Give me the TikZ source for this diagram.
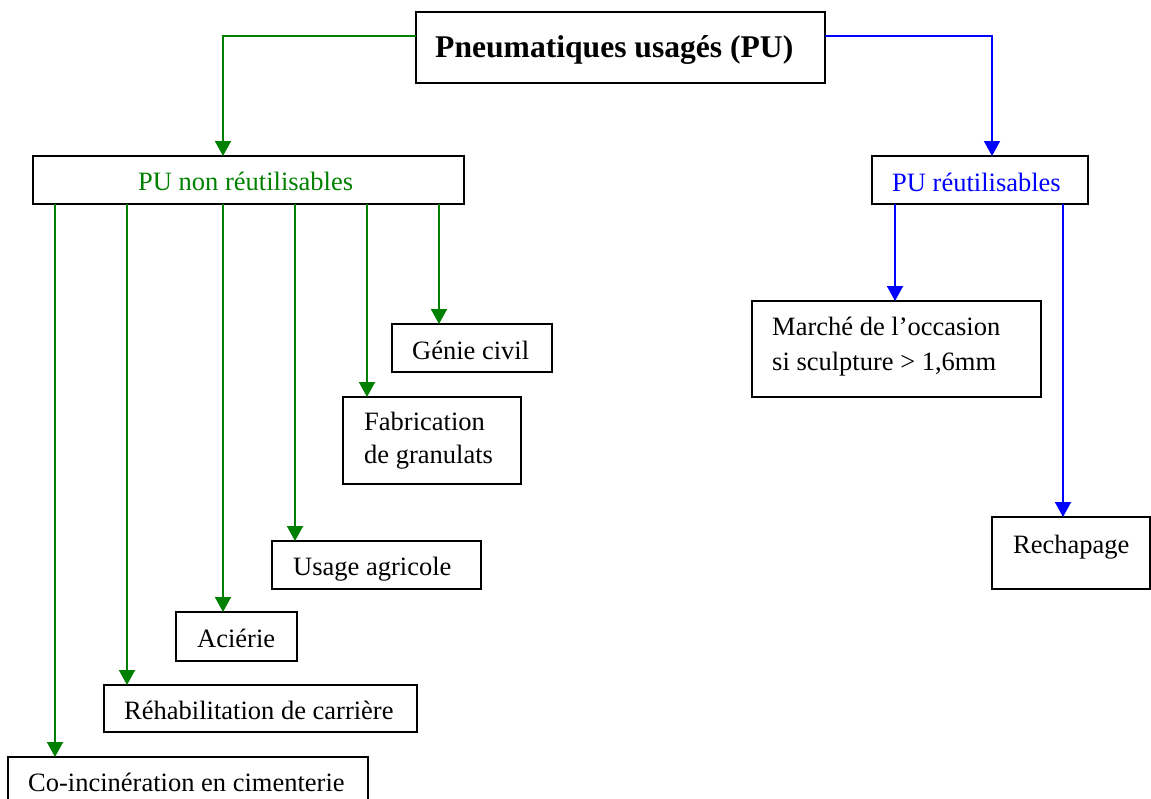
\documentclass[tikz,border=0pt]{standalone}
\usepackage{fontspec}
\setmainfont{Liberation Serif}
\usetikzlibrary{arrows.meta}
\definecolor{pgreen}{RGB}{0,128,0}
\definecolor{pblue}{RGB}{0,0,255}
\begin{document}
\begin{tikzpicture}[x=1pt,y=-1pt,
  box/.style={draw=black,line width=2pt,anchor=north west,inner sep=0pt,outer sep=0pt},
  lbl/.style={anchor=base west,inner sep=0pt,font=\fontsize{26.5}{33}\selectfont},
  garr/.style={draw=pgreen,line width=1.8pt,-{Triangle[width=16pt,length=15pt,fill=pgreen]}},
  barr/.style={draw=pblue,line width=1.8pt,-{Triangle[width=16pt,length=15pt,fill=pblue]}}]
\useasboundingbox (0,0) rectangle (1151,798);
% boxes
\node[box,minimum width=409pt,minimum height=71pt] (top) at (416,12) {};
\node[box,minimum width=431pt,minimum height=48pt] (nonr) at (33,156) {};
\node[box,minimum width=216pt,minimum height=48pt] (reu) at (872,156) {};
\node[box,minimum width=160pt,minimum height=48pt] (genie) at (392,324) {};
\node[box,minimum width=178pt,minimum height=87pt] (fab) at (343,397) {};
\node[box,minimum width=209pt,minimum height=48pt] (usage) at (272,541) {};
\node[box,minimum width=121pt,minimum height=49pt] (acier) at (176,612) {};
\node[box,minimum width=313pt,minimum height=47pt] (rehab) at (104,685) {};
\node[box,minimum width=360pt,minimum height=60pt] (cim) at (8,757) {};
\node[box,minimum width=289pt,minimum height=96pt] (marche) at (752,301) {};
\node[box,minimum width=158pt,minimum height=72pt] (rech) at (992,517) {};
% texts
\node[lbl,font=\fontsize{31.6}{38}\selectfont\bfseries] (ttop) at (435,57) {Pneumatiques usagés (PU)};
\node[lbl,text=pgreen] (tnonr) at (138,190) {PU non réutilisables};
\node[lbl,text=pblue] (treu) at (892,191) {PU réutilisables};
\node[lbl] (tgenie) at (412,359) {Génie civil};
\node[lbl] (tfab1) at (364,430) {Fabrication};
\node[lbl] (tfab2) at (364,463) {de granulats};
\node[lbl] (tusage) at (293,575) {Usage agricole};
\node[lbl] (tacier) at (197,647) {Aciérie};
\node[lbl] (trehab) at (124,719) {Réhabilitation de carrière};
\node[lbl] (tcim) at (28,791) {Co-incinération en cimenterie};
\node[lbl] (tmar1) at (772,335) {Marché de l’occasion};
\node[lbl] (tmar2) at (772,370) {si sculpture > 1,6mm};
\node[lbl] (trech) at (1013,553) {Rechapage};
% x positions of the vertical connectors
\coordinate (xa) at (223,0);
\coordinate (xb) at (992,0);
% top connectors
\draw[garr] ([yshift=-24pt]top.north west) -| (nonr.north -| xa);
\draw[barr] ([yshift=-24pt]top.north east) -| (reu.north -| xb);
% green branches
\foreach \x/\t in {55/cim,127/rehab,223/acier,295/usage,367/fab,439/genie}{
  \coordinate (gx) at (\x,0);
  \draw[garr] (nonr.south -| gx) -- (\t.north -| gx);
}
% blue branches
\foreach \x/\t in {895/marche,1063/rech}{
  \coordinate (bx) at (\x,0);
  \draw[barr] (reu.south -| bx) -- (\t.north -| bx);
}
\end{tikzpicture}
\end{document}
